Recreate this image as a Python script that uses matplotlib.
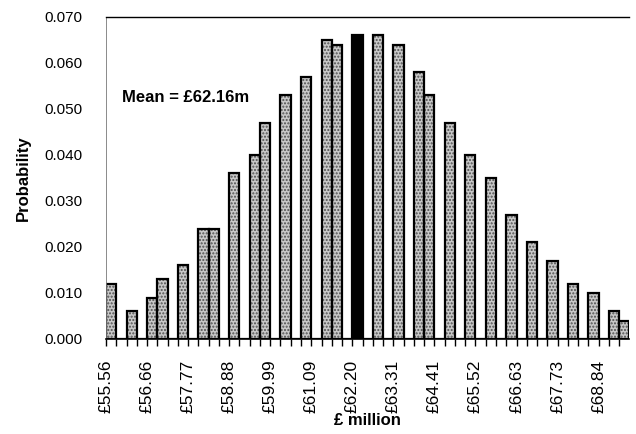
#!/usr/bin/env python3
import numpy as np
import matplotlib.pyplot as plt

plt.rcParams['font.family'] = ['Liberation Sans', 'DejaVu Sans']

# probability per cost bin (51 bins, 4 bins per labelled step)
probs = [0.012, 0.000, 0.006, 0.000, 0.009, 0.013, 0.000, 0.016, 0.000, 0.024,
         0.024, 0.000, 0.036, 0.000, 0.040, 0.047, 0.000, 0.053, 0.000, 0.057,
         0.000, 0.065, 0.064, 0.000, 0.066, 0.000, 0.066, 0.000, 0.064, 0.000,
         0.058, 0.053, 0.000, 0.047, 0.000, 0.040, 0.000, 0.035, 0.000, 0.027,
         0.000, 0.021, 0.000, 0.017, 0.000, 0.012, 0.000, 0.010, 0.000, 0.006,
         0.004]
mean_bin = 24
tick_labels = ['£55.56', '£56.66', '£57.77', '£58.88', '£59.99', '£61.09', '£62.20',
               '£63.31', '£64.41', '£65.52', '£66.63', '£67.73', '£68.84']

fig = plt.figure(figsize=(6.36, 4.34), dpi=100)
ax = fig.add_axes([0.1667, 0.219, 0.823, 0.742])

x = np.arange(len(probs))
probs = np.array(probs)
grey = x != mean_bin
ax.bar(x[grey], probs[grey], 1.0, align='edge', color='#c8c8c8', hatch='.....',
       edgecolor='#505050', linewidth=0)
ax.bar(x[~grey], probs[~grey], 1.0, align='edge', color='black', linewidth=0)
ax.bar(x, probs, 1.0, align='edge', fill=False, edgecolor='black', linewidth=1.6)

ax.set_xlim(0, len(probs))
ax.set_ylim(0, 0.07)
ax.set_yticks(np.arange(0, 0.0701, 0.01))
ax.set_yticklabels(['%.3f' % v for v in np.arange(0, 0.0701, 0.01)], fontsize=11)
ax.tick_params(axis='y', length=0, pad=17)

ax.set_xticks(np.arange(0, 49, 4))
ax.set_xticklabels(tick_labels, rotation=90, fontsize=12.5)
ax.set_xticks(x, minor=True)
ax.tick_params(axis='x', which='both', direction='out', length=5, width=1, pad=10)

ax.spines['right'].set_visible(False)
ax.spines['left'].set_linewidth(0.6)
ax.spines['left'].set_color('#777777')
ax.spines['top'].set_linewidth(1.0)
ax.spines['bottom'].set_linewidth(1.2)

ax.set_ylabel('Probability', fontsize=12, fontweight='bold', labelpad=10)
ax.set_xlabel('£ million', fontsize=12, fontweight='bold', labelpad=0)
ax.text(1.6, 0.0515, 'Mean = £62.16m', fontsize=12, fontweight='bold')

fig.savefig('out.png', dpi=100)
